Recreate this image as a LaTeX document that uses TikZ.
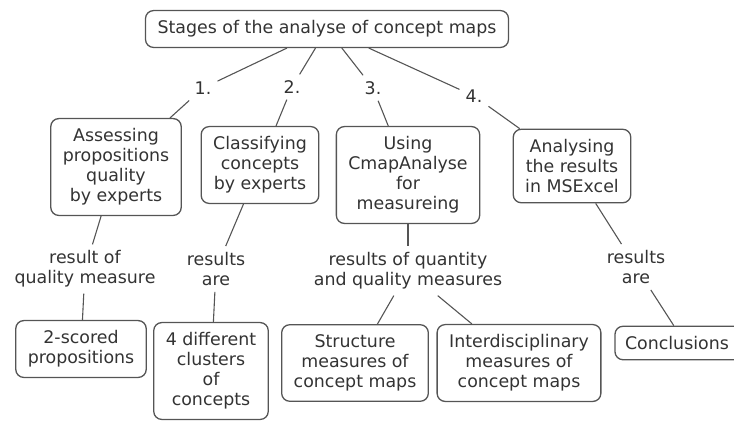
\documentclass[tikz,border=0pt]{standalone}
\usepackage{fontspec}
\setmainfont{DejaVu Sans}
\usepackage{xcolor}
\usepackage{tikz}
\definecolor{boxline}{HTML}{555555}
\definecolor{txt}{HTML}{333333}
\tikzset{
  concept/.style={draw=boxline, line width=1.3pt, rounded corners=8pt, align=center,
    inner xsep=12pt, inner ysep=10pt, text=txt, font=\fontsize{17.4}{20}\selectfont},
  linkword/.style={align=center, inner sep=6pt, text=txt, font=\fontsize{17.4}{20}\selectfont},
  link/.style={draw=boxline, line width=1.1pt}
}

\begin{document}
\begin{tikzpicture}[x=1pt, y=-1pt]
    \useasboundingbox (0,0) rectangle (734,421);
    \node[concept] (stages) at (327,29) {Stages of the analyse of concept maps};
    \node[concept] (assess) at (116,167) {Assessing\\propositions\\quality\\by experts};
    \node[concept] (classify) at (260,165) {Classifying\\concepts\\by experts};
    \node[concept] (cmap) at (408,175) {Using\\CmapAnalyse\\for\\measureing};
    \node[concept] (excel) at (572,166) {Analysing\\the results\\in MSExcel};
    \node[concept] (scored) at (81,349) {2-scored\\propositions};
    \node[concept] (clusters) at (211,371) {4 different\\clusters\\of\\concepts};
    \node[concept] (structure) at (355,363) {Structure\\measures of\\concept maps};
    \node[concept] (interdisc) at (519,363) {Interdisciplinary\\measures of\\concept maps};
    \node[concept, inner xsep=10pt, text width=120pt, align=left] (concl) at (685,343) {Conclusions};
    \node[linkword] (one) at (203,88) {1.};
    \node[linkword] (two) at (292,87) {2.};
    \node[linkword] (three) at (373,88) {3.};
    \node[linkword] (four) at (474,96) {4.};
    \node[linkword] (resA) at (85,269) {result of\\quality measure};
    \node[linkword] (resB) at (216,269) {results\\are};
    \node[linkword] (resC) at (408,271) {results of quantity\\and quality measures};
    \node[linkword] (resD) at (636,267) {results\\are};
    \path [link] (stages) edge (one);
    \path [link] (one) edge (assess);
    \path [link] (stages) edge (two);
    \path [link] (two) edge (classify);
    \path [link] (stages) edge (three);
    \path [link] (three) edge (cmap);
    \path [link] (stages) edge (four);
    \path [link] (four) edge (excel);
    \path [link] (assess) edge (resA);
    \path [link] (resA) edge (scored);
    \path [link] (classify) edge (resB);
    \path [link] (resB) edge (clusters);
    \path [link] (cmap) edge (resC);
    \path [link] (resC) edge (structure);
    \path [link] (resC) edge (interdisc);
    \path [link] (excel) edge (resD);
    \path [link] (resD) edge (concl);
  \end{tikzpicture}
\end{document}
